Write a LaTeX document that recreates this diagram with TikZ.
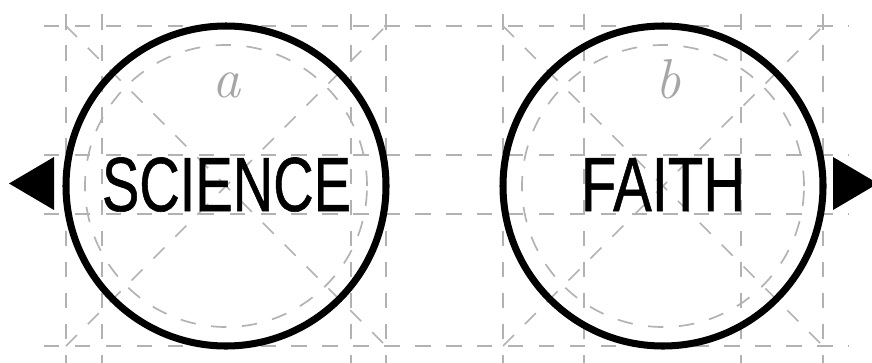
\documentclass[tikz,border=0pt]{standalone}
\usepackage{fontspec}
\newfontfamily\parolafont[FakeBold=0.8]{Liberation Sans}
\usetikzlibrary{positioning}

\tikzset{
  guida/.style={draw=black!30, line width=1.2pt, dash pattern=on 11pt off 11pt},
  cerchio/.style={draw=black, circle, line width=5pt, minimum size=8cm},
  parola/.style={inner sep=0pt, anchor=base, font=\parolafont\fontsize{54.6}{60}\selectfont},
  lettera/.style={inner sep=0pt, anchor=base, text=black!35, font=\itshape\fontsize{40}{40}\selectfont},
}

\begin{document}
\begin{tikzpicture}

  \def\totalW{21.8}
  \def\totalH{9.05}
  \useasboundingbox (0,0) rectangle (\totalW,\totalH);
  \clip (0,0) rectangle (\totalW,\totalH);

  % Linee guida orizzontali (quadrati e altezza maiuscole)
  \foreach \y in {0.4, 3.7, 5.175, 8.4}
    \draw[guida] (1.1,\y) -- (21.225,\y);

  % Linee guida verticali (quadrati e larghezza parole)
  \foreach \x in {1.65, 2.55, 8.775, 9.65, 12.575, 14.6, 18.525, 20.575}
    \draw[guida] (\x,-0.2) -- (\x,9.3);

  % Diagonali e cerchio interno di ogni quadrato
  \foreach \cx in {5.65, 16.575} {
    \draw[guida] (\cx-4,0.4) -- (\cx+4,8.4);
    \draw[guida] (\cx-4,8.4) -- (\cx+4,0.4);
    \draw[guida] (\cx,4.4) circle (3.525);
  }

  % Cerchi
  \node[cerchio] (cscienza) at (5.65,4.4) {};
  \node[cerchio] (cfede) at (16.575,4.4) {};

  % Parole
  \node[parola] (scienza) at (5.6625,3.775) {\scalebox{0.73}[1]{SCIENCE}};
  \node[parola] (fede) at (16.575,3.775) {\scalebox{0.755}[1]{FAITH}};

  % Lettere
  \node[lettera] (la) at (5.675,6.625) {a};
  \node[lettera] (lb) at (16.7,6.6) {b};

  % Triangoli ai lati
  \fill (1.35,5.125) -- (0.225,4.4625) -- (1.35,3.8) -- cycle;
  \fill (20.825,5.125) -- (21.95,4.4625) -- (20.825,3.8) -- cycle;

\end{tikzpicture}
\end{document}
